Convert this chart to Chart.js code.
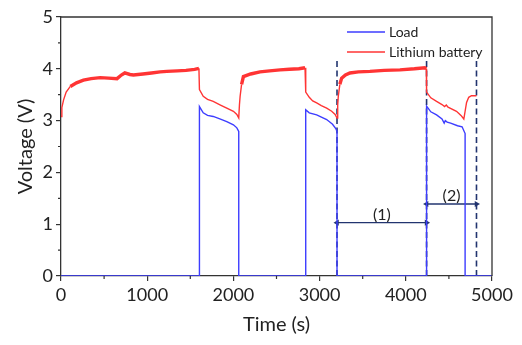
<!DOCTYPE html>
<html>
<head>
<meta charset="utf-8">
<script src="https://cdn.jsdelivr.net/npm/chart.js@4.4.0/dist/chart.umd.min.js"></script>
<style>
  html, body { margin: 0; padding: 0; background: #fff; }
  #wrap { width: 522px; height: 345px; }
</style>
</head>
<body>
<div id="wrap"><canvas id="voltChart"></canvas></div>
<script>
// Lithium battery voltage over time (s, V)
const batteryTime = [0, 10, 30, 60, 108, 180, 260, 350, 455, 550, 650, 700, 740, 800, 840, 950, 1050, 1150, 1228, 1350, 1450, 1550, 1600,
  1606, 1650, 1700, 1766, 1850, 1923, 2000, 2040, 2062,
  2070, 2078, 2095, 2116, 2200, 2309, 2420, 2541, 2650, 2760, 2831,
  2839, 2880, 2920, 2966, 3020, 3082, 3140, 3180, 3202,
  3210, 3217, 3235, 3256, 3300, 3352, 3450, 3584, 3750, 3932, 4100, 4221, 4238,
  4241, 4290, 4357, 4420, 4450, 4470, 4490, 4588, 4640, 4673, 4690, 4705, 4730, 4762, 4820];
const batteryVolt = [3.08, 3.25, 3.4, 3.55, 3.66, 3.73, 3.78, 3.81, 3.83, 3.82, 3.81, 3.88, 3.92, 3.89, 3.88, 3.9, 3.92, 3.94, 3.95, 3.96, 3.97, 3.99, 4.01,
  3.6, 3.47, 3.41, 3.37, 3.3, 3.24, 3.18, 3.12, 3.05,
  3.3, 3.47, 3.7, 3.85, 3.9, 3.94, 3.96, 3.98, 3.99, 4.0, 4.02,
  3.55, 3.45, 3.38, 3.34, 3.29, 3.24, 3.18, 3.12, 3.05,
  3.3, 3.47, 3.7, 3.82, 3.88, 3.92, 3.94, 3.95, 3.97, 3.98, 4.0, 4.02, 4.0,
  3.55, 3.44, 3.37, 3.31, 3.27, 3.3, 3.26, 3.18, 3.1, 3.03, 3.2, 3.35, 3.45, 3.48, 3.48];

// Load voltage over time (s, V)
const loadTime = [0, 1606, 1606, 1650, 1700, 1766, 1850, 1923, 2000, 2040, 2062, 2062,
  2839, 2839, 2880, 2966, 3082, 3150, 3190, 3202, 3202,
  4241, 4241, 4290, 4357, 4420, 4445, 4458, 4480, 4520, 4600, 4653, 4688, 4688, 5000];
const loadVolt = [0, 0, 3.27, 3.15, 3.1, 3.08, 3.03, 2.98, 2.92, 2.86, 2.79, 0,
  0, 3.21, 3.15, 3.11, 3.02, 2.93, 2.84, 2.79, 0,
  0, 3.28, 3.17, 3.11, 3.03, 2.95, 3.0, 2.97, 2.95, 2.9, 2.88, 2.75, 0, 0];

// Stage markers and the two marked intervals
const markerTimes = [3202, 4241, 4820];
const markerTop = 4.15;
const intervalLabels = ['(1)', '(2)'];
const intervalStart = [3202, 4241];
const intervalEnd = [4241, 4820];
const intervalVolt = [1.03, 1.39];

const xTicks = [0, 1000, 2000, 3000, 4000, 5000];
const yTicks = [0, 1, 2, 3, 4, 5];

const RED = '#ff3434';
const BLUE = '#3d3dff';
const NAVY = '#22346f';
const AXIS = '#333';
const FONT = 'Lato';

const zip = (xs, ys) => xs.map((x, i) => ({ x: x, y: ys[i] }));

const datasets = [{
  label: 'Load',
  data: zip(loadTime, loadVolt),
  borderColor: BLUE,
  borderWidth: 1.4,
  pointRadius: 0,
  tension: 0
}, {
  label: 'Lithium battery',
  data: zip(batteryTime, batteryVolt),
  borderColor: RED,
  borderWidth: 1.4,
  pointRadius: 0,
  tension: 0,
  segment: {
    // charging plateau is noisy, drawn as a wider band
    borderWidth: ctx => (ctx.p0.parsed.y > 3.62 && ctx.p1.parsed.y > 3.62) ? 3.4 : 1.4
  }
}];

markerTimes.forEach(t => {
  datasets.push({
    label: 'marker',
    data: [{ x: t, y: 0 }, { x: t, y: markerTop }],
    borderColor: NAVY,
    borderWidth: 1.6,
    borderDash: [6, 3.5],
    pointRadius: 0
  });
});

intervalStart.forEach((t, i) => {
  datasets.push({
    label: 'interval',
    data: [{ x: t, y: intervalVolt[i] }, { x: intervalEnd[i], y: intervalVolt[i] }],
    borderColor: NAVY,
    backgroundColor: NAVY,
    borderWidth: 1.4,
    pointStyle: 'triangle',
    pointRadius: 3.5,
    pointRotation: ctx => ctx.dataIndex === 0 ? -90 : 90,
    pointBorderWidth: 0
  });
});

// frame, minor ticks, legend and interval labels
const decor = {
  id: 'decor',
  afterDraw(chart) {
    const { ctx, chartArea: a, scales: { x, y } } = chart;
    ctx.save();
    ctx.strokeStyle = AXIS;
    ctx.lineWidth = 1.3;
    ctx.beginPath();
    ctx.moveTo(a.left, a.top);
    ctx.lineTo(a.right, a.top);
    ctx.lineTo(a.right, a.bottom);
    ctx.stroke();

    ctx.lineWidth = 1.2;
    ctx.beginPath();
    for (let v = 500; v < 5000; v += 1000) {
      const px = x.getPixelForValue(v);
      ctx.moveTo(px, a.bottom);
      ctx.lineTo(px, a.bottom + 3);
    }
    for (let v = 0.5; v < 5; v += 1) {
      const py = y.getPixelForValue(v);
      ctx.moveTo(a.left, py);
      ctx.lineTo(a.left - 3, py);
    }
    ctx.stroke();

    // legend
    const lx = a.right - 145;
    const items = [['Load', BLUE, 15], ['Lithium battery', RED, 35]];
    ctx.font = '14px ' + FONT;
    ctx.textBaseline = 'middle';
    ctx.textAlign = 'left';
    items.forEach(([text, color, dy]) => {
      ctx.strokeStyle = color;
      ctx.lineWidth = 1.3;
      ctx.beginPath();
      ctx.moveTo(lx, a.top + dy);
      ctx.lineTo(lx + 38, a.top + dy);
      ctx.stroke();
      ctx.fillStyle = '#222';
      ctx.fillText(text, lx + 42, a.top + dy);
    });

    // interval labels, parentheses resting on the arrow
    ctx.font = '16px ' + FONT;
    ctx.textAlign = 'center';
    ctx.textBaseline = 'alphabetic';
    intervalLabels.forEach((lbl, i) => {
      const cx = x.getPixelForValue((intervalStart[i] + intervalEnd[i]) / 2);
      const cy = y.getPixelForValue(intervalVolt[i]);
      ctx.fillText(lbl, cx, cy - 3);
    });
    ctx.restore();
  }
};

new Chart(document.getElementById('voltChart'), {
  type: 'line',
  data: { datasets: datasets },
  plugins: [decor],
  options: {
    responsive: true,
    maintainAspectRatio: false,
    animation: false,
    layout: { padding: { top: 17, right: 30, left: 0, bottom: 0 } },
    plugins: {
      legend: { display: false },
      tooltip: { enabled: false }
    },
    scales: {
      x: {
        type: 'linear',
        min: 0,
        max: 5000,
        afterBuildTicks: s => { s.ticks = xTicks.map(v => ({ value: v })); },
        afterFit: s => { s.height = 69; },
        ticks: { color: '#222', font: { family: FONT, size: 18 }, padding: 3, callback: v => String(v) },
        grid: { drawOnChartArea: false, tickLength: 5, color: AXIS, lineWidth: 1.2 },
        border: { color: AXIS, width: 1.3 },
        title: {
          display: true,
          text: 'Time (s)',
          color: '#222',
          font: { family: FONT, size: 20 },
          padding: { top: 0, bottom: 8 }
        }
      },
      y: {
        min: 0,
        max: 5,
        afterBuildTicks: s => { s.ticks = yTicks.map(v => ({ value: v })); },
        afterFit: s => { s.width = 61; },
        ticks: { color: '#222', font: { family: FONT, size: 18 }, padding: 3, callback: v => String(v) },
        grid: { drawOnChartArea: false, tickLength: 5, color: AXIS, lineWidth: 1.2 },
        border: { color: AXIS, width: 1.3 },
        title: {
          display: true,
          text: 'Voltage (V)',
          color: '#222',
          font: { family: FONT, size: 20 },
          padding: { top: 14, bottom: 0 }
        }
      }
    }
  }
});
</script>
</body>
</html>
